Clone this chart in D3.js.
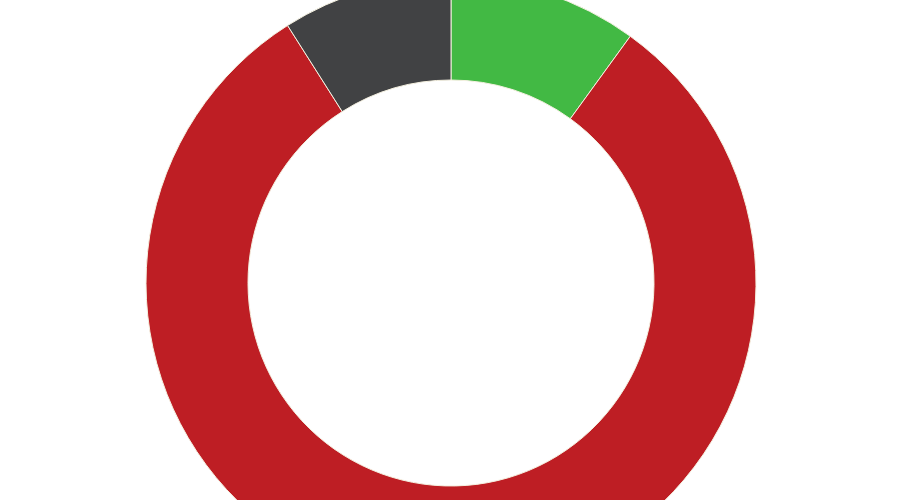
<!DOCTYPE html>
<html>
<head>
<meta charset="utf-8">
<script src="https://cdn.jsdelivr.net/npm/d3@7"></script>
<style>
  html, body { margin: 0; padding: 0; background: #fff; overflow: hidden; }
</style>
</head>
<body>
<div class="chart"></div>
<script>
// Set H/W
const svgWidth = 900;
const svgHeight = 500;

// Slice data, clockwise from 12 o'clock
const labels = ["Green", "Red", "Gray"];
const values = [10, 81, 9];
const colors = ["#42b944", "#be1e24", "#414244"];

const cx = 451;
const cy = 283;
const outerR = 305;
const innerR = 203;

const svg = d3.select(".chart")
  .append("svg")
  .attr("width", svgWidth)
  .attr("height", svgHeight);

const chartGroup = svg.append("g")
  .attr("transform", `translate(${cx}, ${cy})`);

const pie = d3.pie()
  .sort(null)
  .value(d => d.value);

const arc = d3.arc()
  .innerRadius(innerR)
  .outerRadius(outerR);

const data = labels.map((l, i) => ({ label: l, value: values[i], color: colors[i] }));

chartGroup.selectAll("path")
  .data(pie(data))
  .enter()
  .append("path")
  .attr("d", arc)
  .attr("fill", d => d.data.color)
  .attr("stroke", "#f4f0e0")
  .attr("stroke-width", 1);
</script>
</body>
</html>
